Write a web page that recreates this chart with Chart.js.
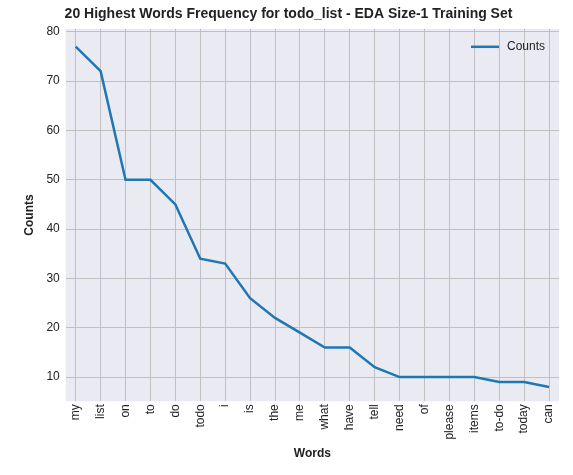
<!DOCTYPE html>
<html>
<head>
<script src="https://cdn.jsdelivr.net/npm/chart.js@4"></script>
<style>
body { margin: 0; background: #fff; }
#wrap { width: 573px; height: 475px; }
</style>
</head>
<body>
<div id="wrap"><canvas id="c"></canvas></div>
<script>
// data
const words = ['my', 'list', 'on', 'to', 'do', 'todo', 'i', 'is', 'the', 'me',
    'what', 'have', 'tell', 'need', 'of', 'please', 'items', 'to-do', 'today', 'can'];
const counts = [77, 72, 50, 50, 45, 34, 33, 26, 22, 19, 16, 16, 12, 10, 10, 10, 10, 9, 9, 8];
const yTicks = [10, 20, 30, 40, 50, 60, 70, 80];

// plot area background
const plotBg = {
    id: 'plotBg',
    beforeDraw(chart) {
        const { ctx, chartArea: { left, top, width, height } } = chart;
        ctx.save();
        ctx.fillStyle = '#EAEAF2';
        ctx.fillRect(left, top, width, height);
        ctx.restore();
    }
};

// legend drawn top-right inside the plot, like matplotlib
const cornerLegend = {
    id: 'cornerLegend',
    afterDatasetsDraw(chart) {
        const { ctx, chartArea: { right, top } } = chart;
        const ds = chart.data.datasets[0];
        ctx.save();
        ctx.font = '12px Arial, "Liberation Sans"';
        const tw = ctx.measureText(ds.label).width;
        const x1 = right - 14 - tw - 8 - 28;
        const y = top + 18;
        ctx.strokeStyle = ds.borderColor;
        ctx.lineWidth = 2.5;
        ctx.beginPath();
        ctx.moveTo(x1, y);
        ctx.lineTo(x1 + 28, y);
        ctx.stroke();
        ctx.fillStyle = '#222';
        ctx.textBaseline = 'middle';
        ctx.fillText(ds.label, x1 + 36, y);
        ctx.restore();
    }
};

const font = { family: 'Arial, "Liberation Sans"', size: 12 };

new Chart(document.getElementById('c'), {
    type: 'line',
    data: {
        datasets: [{
            label: 'Counts',
            data: counts.map((v, i) => ({ x: i, y: v })),
            borderColor: '#1f77b4',
            backgroundColor: '#1f77b4',
            borderWidth: 2.5,
            pointRadius: 0,
            tension: 0
        }]
    },
    options: {
        responsive: true,
        maintainAspectRatio: false,
        animation: false,
        layout: { padding: { left: 18, right: 14, top: 4, bottom: 10 } },
        scales: {
            x: {
                type: 'linear',
                min: -0.4,
                max: 19.4,
                afterBuildTicks(axis) {
                    axis.ticks = words.map((w, i) => ({ value: i }));
                },
                ticks: {
                    autoSkip: false,
                    maxRotation: 90,
                    minRotation: 90,
                    color: '#222',
                    font: font,
                    callback: v => words[v]
                },
                grid: { color: '#c0c0c0', drawTicks: false },
                border: { display: false },
                title: { display: true, text: 'Words', color: '#222', font: { ...font, weight: 'bold' } }
            },
            y: {
                min: 5.1,
                max: 80.6,
                afterBuildTicks(axis) {
                    axis.ticks = yTicks.map(v => ({ value: v }));
                },
                ticks: { color: '#222', font: font, padding: 6 },
                grid: { color: '#c0c0c0', drawTicks: false },
                border: { display: false },
                title: { display: true, text: 'Counts', color: '#222', font: { ...font, weight: 'bold' } }
            }
        },
        plugins: {
            title: {
                display: true,
                text: '20 Highest Words Frequency for todo_list - EDA Size-1 Training Set',
                color: '#222',
                font: { ...font, size: 14, weight: 'bold' },
                padding: { top: 2, bottom: 6 }
            },
            legend: { display: false },
            tooltip: { enabled: false }
        }
    },
    plugins: [plotBg, cornerLegend]
});
</script>
</body>
</html>
